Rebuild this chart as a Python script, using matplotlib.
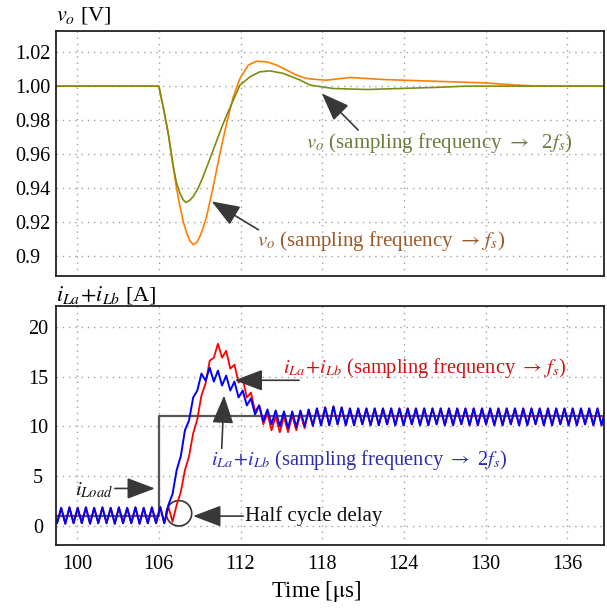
import numpy as np
import matplotlib
matplotlib.use('Agg')
import matplotlib.pyplot as plt
from matplotlib.patches import Ellipse

plt.rcParams['font.family'] = ['Liberation Serif', 'DejaVu Serif']
plt.rcParams['mathtext.fontset'] = 'stix'

# ---- output voltage ----
t_fs = [98.3, 106.0, 106.32, 106.69, 107.06, 107.3, 107.55, 107.8, 108.04, 108.28, 108.53,
        108.78, 109.02, 109.26, 109.51, 110.0, 110.49, 110.98, 111.47, 111.96, 112.57,
        113.19, 113.93, 114.66, 115.4, 116.1, 116.87, 117.6, 118.3, 120.05, 122.5,
        126.2, 129.9, 132.3, 134.0, 138.8]
vo_fs = [1.000, 1.000, 0.9878, 0.9722, 0.9525, 0.940, 0.929, 0.920, 0.9134, 0.9088, 0.9065,
         0.9077, 0.9114, 0.9165, 0.9231, 0.9408, 0.9604, 0.978, 0.9937, 1.0045, 1.0124,
         1.0147, 1.0143, 1.0124, 1.0094, 1.0065, 1.0045, 1.0039, 1.0035, 1.0051, 1.0039,
         1.0029, 1.0019, 1.0006, 1.000, 1.000]

t_2fs = [98.3, 106.0, 106.32, 106.69, 107.06, 107.3, 107.55, 107.78, 107.99, 108.25, 108.53,
         108.9, 109.26, 110.0, 110.73, 111.47, 111.96, 112.7, 113.4, 114.16, 115.14, 116.4,
         117.1, 118.8, 121.3, 123.7, 126.2, 128.6, 138.8]
vo_2fs = [1.000, 1.000, 0.9878, 0.9722, 0.9525, 0.943, 0.9369, 0.933, 0.9314, 0.9325, 0.9349,
          0.940, 0.9467, 0.9624, 0.978, 0.9918, 1.0006, 1.0055, 1.0084, 1.009, 1.0075, 1.0035,
          1.0006, 0.9986, 0.998, 0.9986, 0.9992, 1.000, 1.000]

# ---- inductor current: triangle vertices, one every half switching period ----
T0 = 98.222
HALF = 0.303
i_pre = [1.85, 0.25, 1.8, 0.2, 1.85, 0.25, 1.8, 0.25, 1.85, 0.2, 1.8, 0.25, 1.85, 0.25,
         1.8, 0.2, 1.85, 0.25, 1.8, 0.25, 1.85, 0.2, 1.8, 0.25, 1.85, 0.25, 1.9]
i_2fs_step = [0.25, 2.1, 3.2, 5.6, 7.0, 9.6, 10.6, 12.9, 13.6, 15.3, 14.6, 15.9, 14.5, 15.6,
              14.1, 15.1, 13.6, 14.5, 12.9, 13.6, 12.1, 12.8, 11.2, 12.1, 10.5, 11.7, 10.2,
              11.6, 10.0, 11.5, 9.8, 11.5, 9.9, 11.6, 10.0, 11.7, 10.1]
i_fs_step = [0.25, 1.9, 0.4, 2.1, 3.4, 5.6, 7.0, 9.3, 10.7, 13.1, 14.3, 16.6, 16.9, 18.3,
             16.9, 17.6, 15.8, 16.2, 14.4, 14.8, 12.9, 13.4, 11.5, 12.1, 10.2, 11.3, 9.6,
             11.0, 9.4, 11.0, 9.4, 11.1, 9.6, 11.3, 9.8, 11.6, 10.0]
i_post = [11.8, 10.1, 11.9, 10.1, 12.0, 10.2, 11.9, 10.1, 11.8, 10.1, 11.8, 10.2, 11.8, 10.1,
          11.8, 10.1, 11.8, 10.2, 11.8, 10.1, 11.8, 10.1, 11.8, 10.2, 11.8, 10.1, 11.8, 10.1,
          11.8, 10.2, 11.8, 10.1, 11.8, 10.1, 11.8, 10.2, 11.8, 10.1, 11.8, 10.1, 11.8, 10.2,
          11.8, 10.1, 11.8, 10.1, 11.8, 10.2, 11.8, 10.1, 11.8, 10.1, 11.8, 10.2, 11.8, 10.1,
          11.8, 10.1, 11.8, 10.2, 11.8, 10.1, 11.8, 10.1, 11.8, 10.2, 11.8, 10.1, 11.8, 10.1,
          11.8]

t_load = [98.3, 106.0, 106.0, 138.8]
i_load = [1.0, 1.0, 11.0, 11.0]

i_2fs = i_pre + i_2fs_step + i_post
i_fs = i_pre + i_fs_step + i_post
t_i = T0 + HALF * np.arange(len(i_2fs))

xticks = [100, 106, 112, 118, 124, 130, 136]

fig = plt.figure(figsize=(6.07, 6.08), dpi=100)
ax1 = fig.add_axes([0.0923, 0.546, 0.9028, 0.403])
ax2 = fig.add_axes([0.0923, 0.1036, 0.9028, 0.3931])

grid_kw = dict(color='#a0a0a0', lw=1.0, ls=(0, (1, 3.5)))
arrow_kw = dict(arrowstyle='-|>,head_length=1.45,head_width=0.55', mutation_scale=12,
                color='#383838', lw=1.2, shrinkA=0, shrinkB=0)

for ax in (ax1, ax2):
    ax.set_xlim(98.45, 138.7)
    ax.set_xticks(xticks)
    ax.grid(True, **grid_kw)
    ax.set_axisbelow(True)
    ax.tick_params(length=0, labelsize=14.5)
    for s in ax.spines.values():
        s.set_linewidth(1.3)
        s.set_color('#222222')

# top panel
ax1.plot(t_fs, vo_fs, color='#ff8000', lw=1.2)
ax1.plot(t_2fs, vo_2fs, color='#7f8c10', lw=1.2)
ax1.set_ylim(0.888, 1.0325)
ax1.set_yticks([0.9, 0.92, 0.94, 0.96, 0.98, 1.00, 1.02])
ax1.set_yticklabels(['0.9', '0.92', '0.94', '0.96', '0.98', '1.00', '1.02'], ha='left')
ax1.tick_params(axis='y', pad=29.5)
ax1.tick_params(axis='x', labelbottom=False)

ax1.annotate('', xy=(117.97, 0.9957), xytext=(120.64, 0.9741), arrowprops=arrow_kw)
ax1.text(116.82, 0.9663, r'$v_o$ (sampling frequency $\rightarrow$  2$f_s$)',
         color='#6b7d3c', fontsize=15, ha='left', va='center')
ax1.annotate('', xy=(109.88, 0.932), xytext=(113.31, 0.9153), arrowprops=arrow_kw)
ax1.text(113.19, 0.9084, r'$v_o$ (sampling frequency $\rightarrow\,f_s$)',
         color='#9c5a2c', fontsize=15, ha='left', va='center')

# bottom panel
ax2.plot(t_load, i_load, color='#555555', lw=1.6)
ax2.plot(t_i, i_fs, color='#ff0000', lw=1.3)
ax2.plot(t_i, i_2fs, color='#0000ff', lw=1.4)
ax2.set_ylim(-1.94, 22.1)
ax2.set_yticks([0, 5, 10, 15, 20])
ax2.set_yticklabels(['0', '5', '10', '15', '20'], ha='center')
ax2.tick_params(axis='y', pad=13)
ax2.tick_params(axis='x', pad=7)

ax2.add_patch(Ellipse((107.48, 1.25), 1.87, 2.55, fill=False, ec='#333333', lw=1.2))

ax2.annotate('', xy=(111.57, 14.63), xytext=(116.3, 14.63), arrowprops=arrow_kw)
ax2.text(115.13, 15.83, r'$i_{La}\!+\!i_{Lb}$ (sampling frequency $\rightarrow\,f_s$)',
         color='#d01010', fontsize=14.7, ha='left', va='center')
ax2.annotate('', xy=(110.79, 13.1), xytext=(110.62, 7.77), arrowprops=arrow_kw)
ax2.text(109.81, 6.6, r'$i_{La}\!+\!i_{Lb}$ (sampling frequency $\rightarrow$ 2$f_s$)',
         color='#2a2ab5', fontsize=14.7, ha='left', va='center')
ax2.annotate('', xy=(105.71, 3.75), xytext=(102.77, 3.75), arrowprops=arrow_kw)
ax2.text(102.63, 3.58, r'$i_{Load}$', color='#111111', fontsize=15, ha='right', va='center')
ax2.annotate('', xy=(108.52, 0.97), xytext=(112.2, 0.97), arrowprops=arrow_kw)
ax2.text(112.33, 0.97, 'Half cycle delay', color='#111111', fontsize=15, ha='left', va='center')

fig.text(56 / 607, 1 - 16 / 608, r'$v_o$ [V]', fontsize=16, ha='left', va='center')
fig.text(56 / 607, 1 - 295 / 608, r'$i_{La}\!+\!i_{Lb}$ [A]', fontsize=16, ha='left', va='center')
fig.text(316 / 607, 1 - 592 / 608, r'Time [$\mathrm{\mu}$s]', fontsize=16.5, ha='center', va='center')

fig.savefig('out.png', dpi=100)
